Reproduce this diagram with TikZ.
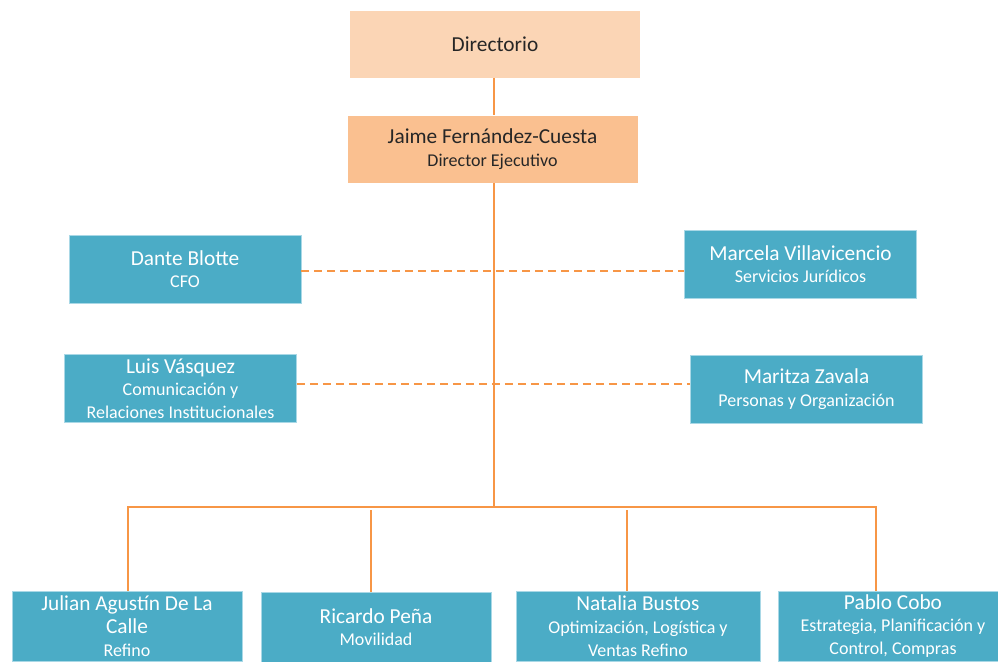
\documentclass[tikz,border=0pt]{standalone}
\usepackage{fontspec}
\setmainfont{Carlito}
\usetikzlibrary{positioning}

\definecolor{peachlt}{HTML}{FBD5B5}
\definecolor{peach}{HTML}{FAC090}
\definecolor{teal box}{HTML}{4BACC6}
\definecolor{teal edge}{HTML}{A9D8E6}
\definecolor{line org}{HTML}{F79646}

\newcommand{\nm}[1]{{\fontsize{16}{17}\selectfont #1}}

\begin{document}
\begin{tikzpicture}[x=0.75pt,y=-0.75pt,line width=1.8pt]

	\tikzset{node top/.style={draw=white, line width=0.5pt,
			minimum width=218pt, minimum height=51pt,
			align=center, text=black!85, inner sep=0pt,
			font=\fontsize{13.5}{17}\selectfont}}
	\tikzset{node mgr/.style={draw=teal edge, line width=0.5pt,
			fill=teal box, text=white,
			minimum width=174pt, minimum height=51pt,
			align=center, inner sep=0pt,
			font=\fontsize{13.5}{17}\selectfont}}
	\tikzset{node low/.style={node mgr, minimum width=172.5pt, minimum height=52.5pt}}
	\tikzset{link/.style={draw=line org}}
	\tikzset{dash link/.style={link, line width=2.2pt, dash pattern=on 6pt off 3.75pt}}

	\useasboundingbox (0,0) rectangle (998,661);

	\node[node top, fill=peachlt] (dir) at (495,44) {\nm{Directorio}};
	\node[node top, fill=peach] (ceo) at (492.5,149)
		{\nm{Jaime Fernández-Cuesta}\\Director Ejecutivo};

	% staff
	\node[node mgr] (dante) at (185,269) {\nm{Dante Blotte}\\CFO};
	\node[node mgr] (marcela) at (800.5,264) {\nm{Marcela Villavicencio}\\Servicios Jurídicos};
	\node[node mgr] (luis) at (180.5,388.5)
		{\nm{Luis Vásquez}\\Comunicación y\\Relaciones Institucionales};
	\node[node mgr] (maritza) at (806.5,389) {\nm{Maritza Zavala}\\Personas y Organización};

	% gerencias
	\node[node low] (julian) at (127,626)
		{\nm{Julian Agustín De La}\\\nm{Calle}\\Refino};
	\node[node low] (ricardo) at (376,627) {\nm{Ricardo Peña}\\Movilidad};
	\node[node low, minimum width=183pt] (natalia) at (638,626)
		{\nm{Natalia Bustos}\\Optimización, Logística y\\Ventas Refino};
	\node[node low] (pablo) at (893,626)
		{\nm{Pablo Cobo}\\Estrategia, Planificación y\\Control, Compras};

	\coordinate (bus) at (494,507);

	\draw[link] (dir.south -| bus) -- (ceo.north -| bus);
	\draw[link] (ceo.south -| bus) -- (bus);
	\draw[link] (julian.north -| 128,0) |- (bus) -| (pablo.north -| 876,0);
	\draw[link, line width=1.2pt]
		(ricardo.north -| 371,0) -- (371,510)
		(natalia.north -| 627,0) -- (627,510);

	\draw[dash link] (dante.east |- 0,271) -- (marcela.west |- 0,271);
	\draw[dash link] (luis.east |- 0,384) -- (maritza.west |- 0,384);
\end{tikzpicture}
\end{document}
